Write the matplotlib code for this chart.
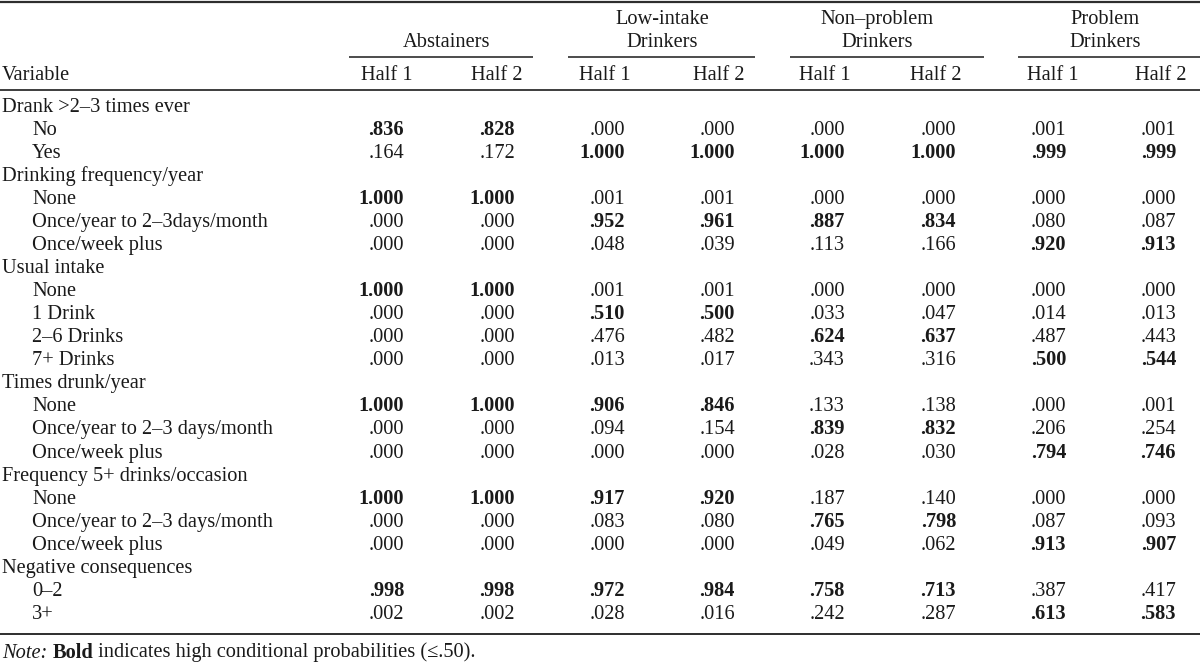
import matplotlib
matplotlib.use("Agg")
import matplotlib.pyplot as plt

plt.rcParams['font.family'] = ['Liberation Serif', 'DejaVu Serif']

# ---------------- data ----------------
groups = ["Abstainers", "Low-intake\nDrinkers", "Non\u2013problem\nDrinkers", "Problem\nDrinkers"]
halves = ["Half 1", "Half 2"]

variables = ["Drank >2\u20133 times ever", "Drinking frequency/year", "Usual intake",
             "Times drunk/year", "Frequency 5+ drinks/occasion", "Negative consequences"]
levels = [
    ["No", "Yes"],
    ["None", "Once/year to 2\u20133days/month", "Once/week plus"],
    ["None", "1 Drink", "2\u20136 Drinks", "7+ Drinks"],
    ["None", "Once/year to 2\u20133 days/month", "Once/week plus"],
    ["None", "Once/year to 2\u20133 days/month", "Once/week plus"],
    ["0\u20132", "3+"],
]

abstainers_h1 = [.836, .164, 1.0, .000, .000, 1.0, .000, .000, .000, 1.0, .000, .000, 1.0, .000, .000, .998, .002]
abstainers_h2 = [.828, .172, 1.0, .000, .000, 1.0, .000, .000, .000, 1.0, .000, .000, 1.0, .000, .000, .998, .002]
lowintake_h1 = [.000, 1.0, .001, .952, .048, .001, .510, .476, .013, .906, .094, .000, .917, .083, .000, .972, .028]
lowintake_h2 = [.000, 1.0, .001, .961, .039, .001, .500, .482, .017, .846, .154, .000, .920, .080, .000, .984, .016]
nonproblem_h1 = [.000, 1.0, .000, .887, .113, .000, .033, .624, .343, .133, .839, .028, .187, .765, .049, .758, .242]
nonproblem_h2 = [.000, 1.0, .000, .834, .166, .000, .047, .637, .316, .138, .832, .030, .140, .798, .062, .713, .287]
problem_h1 = [.001, .999, .000, .080, .920, .000, .014, .487, .500, .000, .206, .794, .000, .087, .913, .387, .613]
problem_h2 = [.001, .999, .000, .087, .913, .000, .013, .443, .544, .001, .254, .746, .000, .093, .907, .417, .583]

columns = [abstainers_h1, abstainers_h2, lowintake_h1, lowintake_h2,
           nonproblem_h1, nonproblem_h2, problem_h1, problem_h2]

note_parts = [("Note:", "italic", "normal"), (" ", "normal", "normal"),
              ("Bold", "normal", "bold"),
              (" indicates high conditional probabilities (\u2264.50).", "normal", "normal")]

# ---------------- layout ----------------
W, H = 1200, 663
fig = plt.figure(figsize=(12, 6.63), dpi=100)
ax = fig.add_axes([0, 0, 1, 1])
ax.set_xlim(0, W)
ax.set_ylim(H, 0)
ax.axis('off')

FS = 14.7
TC = '#1a1a1a'
LC = '#2e2e2e'

col_right = [404, 515, 625, 735, 845, 956, 1066, 1176]
half_center = [386.5, 497, 605, 719, 825, 936, 1053, 1161]
group_center = [446.5, 662.5, 877, 1105]
group_lines = [(349, 533), (568, 755), (790, 984), (1018, 1200)]

def fmt(v):
    s = f"{v:.3f}"
    return s[1:] if s.startswith("0") else s

# rules
ax.plot([0, W], [1.5, 1.5], color=LC, lw=1.6, solid_capstyle='butt')
ax.plot([0, W], [89.5, 89.5], color=LC, lw=1.3, solid_capstyle='butt')
ax.plot([0, W], [633.5, 633.5], color=LC, lw=1.4, solid_capstyle='butt')
for x0, x1 in group_lines:
    ax.plot([x0, x1], [57, 57], color=LC, lw=1.2, solid_capstyle='butt')

# header
for g, xc in zip(groups, group_center):
    lines = g.split("\n")
    ys = [47] if len(lines) == 1 else [24, 47]
    for t, y in zip(lines, ys):
        ax.text(xc, y, t, ha='center', va='baseline', fontsize=FS, color=TC)
for i, xc in enumerate(half_center):
    ax.text(xc, 79.5, halves[i % 2], ha='center', va='baseline', fontsize=FS, color=TC)
ax.text(2, 79.5, "Variable", ha='left', va='baseline', fontsize=FS, color=TC)

# body
y0, dy = 111.5, 23.07
row = 0
vi = 0
for var, levs in zip(variables, levels):
    ax.text(2, y0 + row * dy, var, ha='left', va='baseline', fontsize=FS, color=TC)
    row += 1
    for lev in levs:
        y = y0 + row * dy
        ax.text(32, y, lev, ha='left', va='baseline', fontsize=FS, color=TC)
        for c, xr in zip(columns, col_right):
            v = c[vi]
            ax.text(xr, y, fmt(v), ha='right', va='baseline', fontsize=FS, color=TC,
                    fontweight='bold' if v >= 0.5 else 'normal')
        row += 1
        vi += 1

# note
fig.canvas.draw()
renderer = fig.canvas.get_renderer()
x = 2
for txt, style, weight in note_parts:
    t = ax.text(x, 657.5, txt, ha='left', va='baseline', fontsize=FS, color=TC,
                fontstyle=style, fontweight=weight)
    bb = t.get_window_extent(renderer=renderer)
    x += bb.width

fig.savefig("out.png", dpi=100)
